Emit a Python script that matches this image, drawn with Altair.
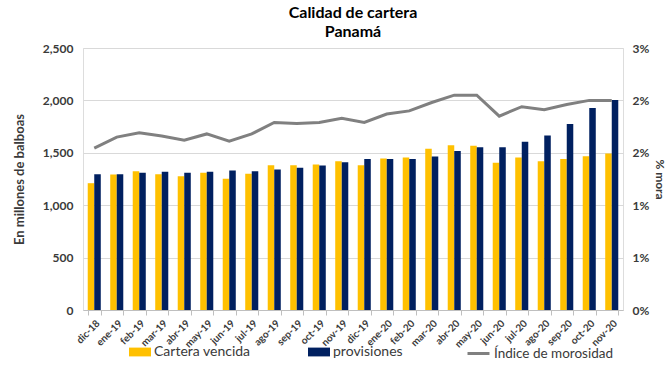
import altair as alt
import pandas as pd

meses = ["dic-18", "ene-19", "feb-19", "mar-19", "abr-19", "may-19", "jun-19", "jul-19",
         "ago-19", "sep-19", "oct-19", "nov-19", "dic-19", "ene-20", "feb-20", "mar-20",
         "abr-20", "may-20", "jun-20", "jul-20", "ago-20", "sep-20", "oct-20", "nov-20"]
cartera_vencida = [1210, 1293, 1325, 1296, 1277, 1309, 1252, 1300, 1382, 1382, 1389, 1420,
                   1382, 1446, 1456, 1538, 1573, 1567, 1405, 1456, 1420, 1440, 1468, 1494]
provisiones = [1296, 1296, 1309, 1319, 1309, 1319, 1331, 1325, 1341, 1357, 1379, 1411,
               1440, 1440, 1440, 1465, 1516, 1554, 1554, 1605, 1666, 1774, 1927, 2003]
morosidad = [1.545, 1.65, 1.69, 1.66, 1.62, 1.68, 1.61, 1.68, 1.79, 1.78, 1.79, 1.83,
             1.79, 1.87, 1.90, 1.98, 2.05, 2.05, 1.85, 1.94, 1.91, 1.96, 2.00, 2.00]
series = ["Cartera vencida", "provisiones"]
serie_linea = "Índice de morosidad"

rows = []
for i, m in enumerate(meses):
    rows.append({"mes": m, "serie": series[0], "valor": cartera_vencida[i]})
    rows.append({"mes": m, "serie": series[1], "valor": provisiones[i]})
df_bars = pd.DataFrame(rows)
df_line = pd.DataFrame({"mes": meses, "mora": morosidad, "serie": [serie_linea] * len(meses)})

FONT = "Lato"
TXT = "#3a3a3a"

x_axis = alt.Axis(title=None, labelAngle=-45, labelFont=FONT, labelFontSize=10,
                  labelFontWeight="bold", labelColor=TXT, domainColor="#bfbfbf",
                  tickColor="#bfbfbf", tickBand="extent", tickSize=5, grid=False,
                  labelPadding=3)
x_scale = alt.Scale(paddingInner=0.42, paddingOuter=0.21)

bars = alt.Chart(df_bars).mark_bar().encode(
    x=alt.X("mes:N", sort=meses, scale=x_scale, axis=x_axis),
    xOffset=alt.XOffset("serie:N", sort=series, scale=alt.Scale(paddingInner=0, paddingOuter=0)),
    y=alt.Y("valor:Q", scale=alt.Scale(domain=[0, 2500]),
            axis=alt.Axis(title="En millones de balboas", values=[0, 500, 1000, 1500, 2000, 2500],
                          format=",d", grid=True, gridColor="#d9d9d9", domain=False, ticks=False,
                          labelFont=FONT, labelFontSize=12, labelFontWeight="bold",
                          labelColor=TXT, labelPadding=10, titleFont=FONT, titleFontSize=13,
                          titleFontWeight="bold", titleColor=TXT, titlePadding=16)),
    color=alt.Color("serie:N", sort=series,
                    scale=alt.Scale(domain=series, range=["#FFC000", "#002060"]),
                    legend=alt.Legend(title=None, orient="none", legendX=46, legendY=293,
                                      direction="horizontal", columns=2, columnPadding=57,
                                      symbolType="M-1,-0.4H1V0.4H-1Z", symbolSize=484,
                                      symbolStrokeWidth=0, labelFont=FONT, labelFontSize=14,
                                      labelColor=TXT, labelOffset=3)),
)

line = alt.Chart(df_line).mark_line(strokeWidth=3).encode(
    x=alt.X("mes:N", sort=meses, scale=x_scale, axis=x_axis),
    y=alt.Y("mora:Q", scale=alt.Scale(domain=[0, 2.5]),
            axis=alt.Axis(title="% mora", orient="right", values=[0, 0.5, 1, 1.5, 2, 2.5],
                          labelExpr="round(datum.value) + '%'", grid=False, domain=False,
                          ticks=False, labelFont=FONT, labelFontSize=12, labelFontWeight="bold",
                          labelColor=TXT, labelPadding=9, titleFont=FONT, titleFontSize=12,
                          titleFontWeight="bold", titleColor=TXT, titlePadding=4)),
    stroke=alt.Stroke("serie:N", scale=alt.Scale(domain=[serie_linea], range=["#808080"]),
                      legend=alt.Legend(title=None, orient="none", legendX=383, legendY=293,
                                        symbolType="stroke", symbolSize=484,
                                        symbolStrokeWidth=3, labelFont=FONT, labelFontSize=13.5,
                                        labelColor=TXT, labelOffset=3)),
)

chart = alt.layer(bars, line).resolve_scale(y="independent").properties(
    width=540, height=262,
    autosize=alt.AutoSizeParams(type="none"),
    padding={"left": 83, "top": 48, "right": 46, "bottom": 58},
    title=alt.Title(["Calidad de cartera", "Panamá"], font=FONT, fontSize=16,
                    fontWeight="bold", color="#000000", lineHeight=19, offset=2,
                    anchor="middle"),
).configure_view(stroke=None).configure(background="white")

chart.save("out.html", embed_options={"renderer": "svg", "actions": False})
